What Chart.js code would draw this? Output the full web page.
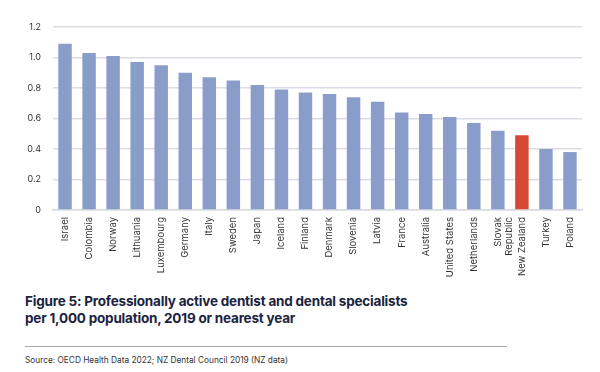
<!DOCTYPE html>
<html><head><meta charset="utf-8">
<script src="https://cdn.jsdelivr.net/npm/chart.js@4"></script>
<style>
html,body{margin:0;padding:0;background:#fff;width:600px;height:372px;overflow:hidden;font-family:Inter,"Noto Sans",sans-serif;}
#wrap{position:absolute;left:0;top:0;width:600px;height:290px;}
#title{position:absolute;left:25px;top:293px;font-size:13.5px;font-weight:700;color:#1b2340;line-height:17px;letter-spacing:-0.2px;}
#rule{position:absolute;left:25px;top:346px;width:482px;height:1px;background:#a9a9b0;}
#src{position:absolute;left:25px;top:355px;font-size:8.3px;color:#333;}
</style></head><body>
<div id="wrap"><canvas id="c"></canvas></div>
<div id="title">Figure 5: Professionally active dentist and dental specialists<br>per 1,000 population, 2019 or nearest year</div>
<div id="rule"></div>
<div id="src">Source: OECD Health Data 2022; NZ Dental Council 2019 (NZ data)</div>
<script>
const categories = ["Israel","Colombia","Norway","Lithuania","Luxembourg","Germany","Italy","Sweden","Japan","Iceland","Finland","Denmark","Slovenia","Latvia","France","Australia","United States","Netherlands",["Slovak","Republic"],"New Zealand","Turkey","Poland"];
const values = [1.09,1.03,1.01,0.97,0.95,0.90,0.87,0.85,0.82,0.79,0.77,0.76,0.74,0.71,0.64,0.63,0.61,0.57,0.52,0.49,0.40,0.38];
const highlight = "New Zealand";
const yTicks = [0,0.2,0.4,0.6,0.8,1.0,1.2];
const colors = categories.map(c => c === highlight ? "#d54a32" : "#8a9dca");
new Chart(document.getElementById('c'), {
  type: 'bar',
  data: { labels: categories, datasets: [{ data: values, backgroundColor: colors, borderWidth: 0, barPercentage: 0.56, categoryPercentage: 1.0 }] },
  options: {
    responsive: true, maintainAspectRatio: false, animation: false,
    layout: { padding: { top: 27, right: 18, left: 0, bottom: 0 } },
    plugins: { legend: { display: false }, tooltip: { enabled: false } },
    scales: {
      x: {
        grid: { display: false, drawTicks: false },
        border: { display: true, color: '#d9d9e3', width: 1.5 },
        ticks: { minRotation: 90, maxRotation: 90, autoSkip: false, color: '#333', font: { family: 'Inter', size: 9.5 }, padding: 7 },
        afterFit: s => { s.height = 80; }
      },
      y: {
        min: 0, max: 1.2,
        afterBuildTicks: s => { s.ticks = yTicks.map(v => ({ value: v })); },
        grid: { color: '#dcdce6', lineWidth: 1.5, drawTicks: false },
        border: { display: false },
        ticks: { color: '#333', font: { family: 'Inter', size: 9 }, padding: 12, callback: v => v === 0 ? '0' : v.toFixed(1) },
        afterFit: s => { s.width = 53; }
      }
    }
  }
});
</script>
</body></html>
